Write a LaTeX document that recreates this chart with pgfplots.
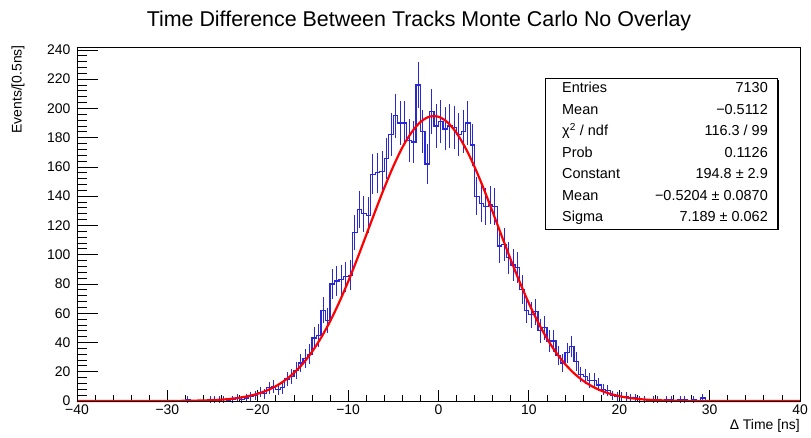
\documentclass[border=0pt]{standalone}
\usepackage{fontspec}
\setmainfont{Liberation Sans}
\usepackage{pgfplots}
\usepackage{pgfplotstable}
\pgfplotsset{compat=1.18}
\definecolor{histblue}{RGB}{40,40,215}
\definecolor{fitred}{RGB}{255,0,0}
\pgfplotstableread{
x y e
-39.75 0 0
-39.25 0 0
-38.75 0 0
-38.25 0 0
-37.75 0 0
-37.25 0 0
-36.75 0 0
-36.25 0 0
-35.75 0 0
-35.25 0 0
-34.75 0 0
-34.25 0 0
-33.75 0 0
-33.25 0 0
-32.75 0 0
-32.25 0 0
-31.75 0 0
-31.25 0 0
-30.75 0 0
-30.25 0 0
-29.75 0 0
-29.25 0 0
-28.75 0 0
-28.25 0 0
-27.75 1 1
-27.25 0 0
-26.75 0 0
-26.25 0 0
-25.75 0 0
-25.25 1 1
-24.75 1 1
-24.25 1 1
-23.75 1 1
-23.25 0 0
-22.75 1 1
-22.25 2 1.41
-21.75 1 1
-21.25 2 1.41
-20.75 3 1.73
-20.25 4 2
-19.75 6 2.45
-19.25 5 2.24
-18.75 9 3
-18.25 10 3.16
-17.75 8 2.83
-17.25 9 3
-16.75 15 3.87
-16.25 17 4.12
-15.75 21 4.58
-15.25 26 5.10
-14.75 29 5.39
-14.25 32 5.66
-13.75 43 6.56
-13.25 45 6.71
-12.75 62 7.87
-12.25 55 7.42
-11.75 80 8.94
-11.25 82 9.06
-10.75 83 9.11
-10.25 85 9.22
-9.75 86 9.27
-9.25 115 10.72
-8.75 131 11.45
-8.25 128 11.31
-7.75 127 11.27
-7.25 155 12.45
-6.75 156 12.49
-6.25 157 12.53
-5.75 166 12.88
-5.25 182 13.49
-4.75 195 13.96
-4.25 190 13.78
-3.75 190 13.78
-3.25 178 13.34
-2.75 177 13.30
-2.25 216 14.70
-1.75 184 13.56
-1.25 162 12.73
-0.75 198 14.07
-0.25 188 13.71
0.25 191 13.82
0.75 186 13.64
1.25 188 13.71
1.75 187 13.67
2.25 182 13.49
2.75 184 13.56
3.25 190 13.78
3.75 175 13.23
4.25 140 11.83
4.75 135 11.62
5.25 133 11.53
5.75 134 11.58
6.25 133 11.53
6.75 106 10.30
7.25 107 10.34
7.75 98 9.90
8.25 93 9.64
8.75 91 9.54
9.25 76 8.72
9.75 62 7.87
10.25 59 7.68
10.75 61 7.81
11.25 48 6.93
11.75 50 7.07
12.25 41 6.40
12.75 41 6.40
13.25 31 5.57
13.75 26 5.10
14.25 33 5.74
14.75 37 6.08
15.25 27 5.20
15.75 18 4.24
16.25 17 4.12
16.75 14 3.74
17.25 14 3.74
17.75 11 3.32
18.25 8 2.83
18.75 7 2.65
19.25 4 2
19.75 3 1.73
20.25 3 1.73
20.75 3 1.73
21.25 2 1.41
21.75 2 1.41
22.25 1 1
22.75 1 1
23.25 0 0
23.75 1 1
24.25 1 1
24.75 0 0
25.25 1 1
25.75 1 1
26.25 0 0
26.75 1 1
27.25 1 1
27.75 0 0
28.25 1 1
28.75 0 0
29.25 2 1.41
29.75 0 0
30.25 0 0
30.75 0 0
31.25 0 0
31.75 0 0
32.25 0 0
32.75 0 0
33.25 0 0
33.75 0 0
34.25 0 0
34.75 0 0
35.25 0 0
35.75 0 0
36.25 0 0
36.75 0 0
37.25 0 0
37.75 0 0
38.25 0 0
38.75 0 0
39.25 0 0
39.75 0 0
}\histdata
\pgfplotstableread{
x y
-40 0
-35 0
-30 0.04
-28 0.13
-26 0.36
-25 0.59
-24 0.94
-23 1.47
-22 2.24
-21 3.37
-20 4.96
-19 7.16
-18 10.13
-17 14.07
-16 19.18
-15 25.6
-14 33.6
-13 43.2
-12 54.4
-11 67.3
-10 81.6
-9 97.1
-8 113.4
-7 129.8
-6 145.7
-5 160.4
-4 173.3
-3 183.5
-2 190.7
-1 194.4
0 194.3
1 190.5
2 183.2
3 172.8
4 159.9
5 145.1
6 129.1
7 112.7
8 96.5
9 81.1
10 66.8
11 54.0
12 42.7
13 33.2
14 25.3
15 18.9
16 13.9
17 10.0
18 7.06
19 4.89
20 3.31
21 2.21
22 1.44
23 0.92
24 0.58
26 0.22
28 0.07
30 0.02
35 0
40 0
}\fitdata
\begin{document}
\begin{tikzpicture}[x=1bp,y=1bp]
\path[use as bounding box] (-77,-37) rectangle (734,401);
\begin{axis}[
  at={(0,0)}, anchor=south west, scale only axis,
  width=723bp, height=354bp,
  xmin=-40, xmax=40, ymin=0, ymax=242,
  clip=false,
  axis line style={line width=0.8bp},
  xtick={-40,-30,...,40},
  xticklabels={−40,−30,−20,−10,0,10,20,30,40},
  minor x tick num=4,
  xtick pos=left,
  ytick=\empty,
  tick align=inside,
  major tick length=11bp, minor tick length=5.5bp,
  every tick/.style={black, line width=0.8bp},
  xticklabel style={font=\fontsize{14}{16}\selectfont},
]
\addplot[draw=histblue, mark=none, const plot mark mid, line width=1.2bp] table[x=x,y=y]{\histdata};
\addplot[draw=none, color=histblue, mark=none, restrict y to domain=0.5:300,
  error bars/.cd, y dir=both, y explicit,
  error bar style={draw=histblue, line width=1bp},
  error mark=-,
  error mark options={draw=histblue, line width=1bp, mark size=1.6bp}]
  table[x=x,y=y,y error=e]{\histdata};
\addplot[draw=fitred, mark=none, line width=2.2bp, smooth] table[x=x,y=y]{\fitdata};
\end{axis}
\begin{axis}[
  at={(0,0)}, anchor=south west, scale only axis,
  width=723bp, height=354bp,
  xmin=-40, xmax=40, ymin=0, ymax=242,
  axis line style={line width=0.8bp},
  xtick=\empty,
  ytick={0,20,...,240},
  minor y tick num=4,
  ytick pos=left,
  tick align=inside,
  major tick length=21bp, minor tick length=10.5bp,
  every tick/.style={black, line width=0.8bp},
  yticklabel style={font=\fontsize{14}{16}\selectfont, xshift=-3bp},
  /pgf/number format/assume math mode=true,
]
\end{axis}
\node[anchor=base, inner sep=0, font=\fontsize{21.5}{26}\selectfont] at (342,374) {Time Difference Between Tracks Monte Carlo No Overlay};
\node[rotate=90, anchor=east, inner sep=0, font=\fontsize{14}{16}\selectfont] at (-59,356) {Events/[0.5ns]};
\node[anchor=east, inner sep=0, font=\fontsize{14}{16}\selectfont] at (723,-25) {Δ Time [ns]};
% stats box
\fill[white] (468,172) rectangle (700,323);
\fill[black] (470,170.5) rectangle (701.5,172.4);
\fill[black] (699.6,170.5) rectangle (701.5,321);
\draw[line width=0.8bp] (468,172) rectangle (700,323);
\begin{scope}[every node/.style={inner sep=0, font=\fontsize{14.5}{16}\selectfont}]
\node[anchor=base west] at (485,308) {Entries};
\node[anchor=base east] at (691,308) {7130};
\node[anchor=base west] at (485,286.5) {Mean};
\node[anchor=base east] at (691,286.5) {−0.5112};
\node[anchor=base west] at (485,265) {χ\textsuperscript{2} / ndf};
\node[anchor=base east] at (691,265) {116.3 / 99};
\node[anchor=base west] at (485,243.5) {Prob};
\node[anchor=base east] at (691,243.5) {0.1126};
\node[anchor=base west] at (485,222) {Constant};
\node[anchor=base east] at (691,222) {194.8 ± 2.9};
\node[anchor=base west] at (485,200.5) {Mean};
\node[anchor=base east] at (691,200.5) {−0.5204 ± 0.0870};
\node[anchor=base west] at (485,179) {Sigma};
\node[anchor=base east] at (691,179) {7.189 ± 0.062};
\end{scope}
\end{tikzpicture}
\end{document}
